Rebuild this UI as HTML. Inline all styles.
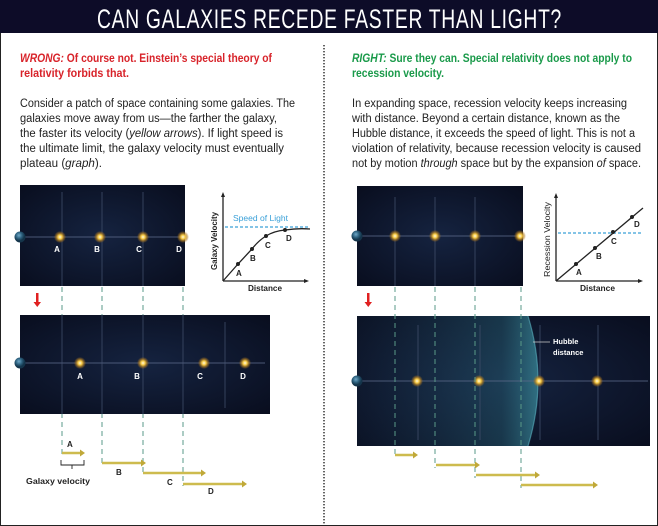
<!DOCTYPE html>
<html><head><meta charset="utf-8"><style>
html,body{margin:0;padding:0;background:#fff;}
svg{display:block;}
text{font-family:"Liberation Sans",sans-serif;}
</style></head><body>
<svg width="658" height="526" viewBox="0 0 658 526" xmlns="http://www.w3.org/2000/svg">
<defs>
<radialGradient id="gal"><stop offset="0" stop-color="#fffbe0"/><stop offset="0.35" stop-color="#f5c842"/><stop offset="0.7" stop-color="#b07a20" stop-opacity="0.6"/><stop offset="1" stop-color="#b07a20" stop-opacity="0"/></radialGradient>
<radialGradient id="earth" cx="0.4" cy="0.35"><stop offset="0" stop-color="#6fa8c8"/><stop offset="0.6" stop-color="#2a5d7a"/><stop offset="1" stop-color="#14344a"/></radialGradient>
<radialGradient id="pan" cx="0.5" cy="0.5" r="0.75"><stop offset="0" stop-color="#152340"/><stop offset="1" stop-color="#080c1c"/></radialGradient>
<linearGradient id="hub" x1="0" x2="1"><stop offset="0" stop-color="#1b3550" stop-opacity="0.15"/><stop offset="0.8" stop-color="#24596c" stop-opacity="0.5"/><stop offset="1" stop-color="#3a8a9a" stop-opacity="0.75"/></linearGradient>
<g id="g"><circle r="6" fill="url(#gal)"/></g>
</defs>
<rect x="0.5" y="0.5" width="657" height="525" fill="#fff" stroke="#222"/>
<rect x="0" y="0" width="658" height="33" fill="#0d0c28"/>
<text x="97" y="28" font-size="27" fill="#fff" textLength="465" lengthAdjust="spacingAndGlyphs" letter-spacing="1">CAN GALAXIES RECEDE FASTER THAN LIGHT?</text>
<line x1="324" y1="45" x2="324" y2="526" stroke="#222" stroke-width="1.4" stroke-dasharray="1.4,1.6"/>

<g font-size="11.5" font-weight="bold">
<text x="20" y="62" fill="#d8232a" textLength="252" lengthAdjust="spacingAndGlyphs"><tspan font-style="italic">WRONG:</tspan> Of course not. Einstein’s special theory of</text>
<text x="20" y="77" fill="#d8232a" textLength="109" lengthAdjust="spacingAndGlyphs">relativity forbids that.</text>
<text x="352" y="62" fill="#1a9a4a" textLength="280" lengthAdjust="spacingAndGlyphs"><tspan font-style="italic">RIGHT:</tspan> Sure they can. Special relativity does not apply to</text>
<text x="352" y="77" fill="#1a9a4a" textLength="92" lengthAdjust="spacingAndGlyphs">recession velocity.</text>
</g>
<g font-size="11.5" fill="#222">
<text x="20" y="107" textLength="275" lengthAdjust="spacingAndGlyphs">Consider a patch of space containing some galaxies. The</text>
<text x="20" y="122" textLength="257" lengthAdjust="spacingAndGlyphs">galaxies move away from us—the farther the galaxy,</text>
<text x="20" y="137" textLength="263" lengthAdjust="spacingAndGlyphs">the faster its velocity (<tspan font-style="italic">yellow arrows</tspan>). If light speed is</text>
<text x="20" y="152" textLength="264" lengthAdjust="spacingAndGlyphs">the ultimate limit, the galaxy velocity must eventually</text>
<text x="20" y="167" textLength="82" lengthAdjust="spacingAndGlyphs">plateau (<tspan font-style="italic">graph</tspan>).</text>
<text x="352" y="107" textLength="275" lengthAdjust="spacingAndGlyphs">In expanding space, recession velocity keeps increasing</text>
<text x="352" y="122" textLength="268" lengthAdjust="spacingAndGlyphs">with distance. Beyond a certain distance, known as the</text>
<text x="352" y="137" textLength="283" lengthAdjust="spacingAndGlyphs">Hubble distance, it exceeds the speed of light. This is not a</text>
<text x="352" y="152" textLength="289" lengthAdjust="spacingAndGlyphs">violation of relativity, because recession velocity is caused</text>
<text x="352" y="167" textLength="289" lengthAdjust="spacingAndGlyphs">not by motion <tspan font-style="italic">through</tspan> space but by the expansion <tspan font-style="italic">of</tspan> space.</text>
</g>

<!-- LEFT upper panel -->
<rect x="20" y="185" width="165" height="101" fill="url(#pan)"/>
<g stroke="#3e4c68" stroke-width="1" opacity="0.8">
<line x1="62" y1="192" x2="62" y2="286"/><line x1="102" y1="192" x2="102" y2="286"/><line x1="143" y1="192" x2="143" y2="286"/>
<line x1="20" y1="237" x2="185" y2="237" stroke="#5a6888"/></g>
<circle cx="20" cy="237" r="5.5" fill="url(#earth)"/>
<use href="#g" x="60" y="237"/><use href="#g" x="100" y="237"/><use href="#g" x="143" y="237"/><use href="#g" x="183" y="237"/>
<g fill="#fff" font-size="8" font-weight="bold" text-anchor="middle">
<text x="57" y="252">A</text><text x="97" y="252">B</text><text x="139" y="252">C</text><text x="179" y="252">D</text></g>

<!-- left graph -->
<g stroke="#222" stroke-width="1.3" fill="none">
<line x1="223" y1="281" x2="223" y2="195"/><line x1="223" y1="281" x2="306" y2="281"/>
<path d="M223 281 L238 264 L252 249 Q258 241 266 236 Q274 231 285 230 Q298 228 310 229"/></g>
<path d="M223 192 l-2 5 h4z M309 281 l-5 -2 v4z" fill="#222"/>
<line x1="225" y1="227" x2="310" y2="227" stroke="#3aa0d8" stroke-width="1.2" stroke-dasharray="3,2"/>
<text x="233" y="221" font-size="8.5" fill="#3aa0d8" textLength="55" lengthAdjust="spacingAndGlyphs">Speed of Light</text>
<g fill="#222"><circle cx="238" cy="264" r="2"/><circle cx="252" cy="249" r="2"/><circle cx="266" cy="236" r="2"/><circle cx="285" cy="230" r="2"/></g>
<g font-size="8" font-weight="bold" fill="#222"><text x="236" y="276">A</text><text x="250" y="261">B</text><text x="265" y="248">C</text><text x="286" y="241">D</text>
<text x="248" y="291" textLength="34" lengthAdjust="spacingAndGlyphs">Distance</text>
<text transform="translate(217,270) rotate(-90)" textLength="58" lengthAdjust="spacingAndGlyphs">Galaxy Velocity</text></g>

<!-- red arrows -->
<path d="M36 293 h2.5 v9 h2.5 l-3.75 5 l-3.75 -5 h2.5z" fill="#e02020"/>
<path d="M367 293 h2.5 v9 h2.5 l-3.75 5 l-3.75 -5 h2.5z" fill="#e02020"/>

<!-- left dashed -->
<g stroke="#5a9a88" stroke-width="1" stroke-dasharray="5,4">
<line x1="62" y1="287" x2="62" y2="455"/><line x1="102" y1="287" x2="102" y2="465"/><line x1="143" y1="287" x2="143" y2="475"/><line x1="183" y1="287" x2="183" y2="486"/></g>

<!-- left lower panel -->
<rect x="20" y="315" width="250" height="99" fill="url(#pan)"/>
<g stroke="#3e4c68" opacity="0.8"><line x1="62" y1="315" x2="62" y2="414"/><line x1="102" y1="315" x2="102" y2="414"/><line x1="143" y1="315" x2="143" y2="414"/><line x1="183" y1="315" x2="183" y2="414"/><line x1="225" y1="322" x2="225" y2="408"/>
<line x1="20" y1="363" x2="265" y2="363" stroke="#5a6888"/></g>
<circle cx="20" cy="363" r="5.5" fill="url(#earth)"/>
<use href="#g" x="80" y="363"/><use href="#g" x="143" y="363"/><use href="#g" x="204" y="363"/><use href="#g" x="245" y="363"/>
<g fill="#fff" font-size="8" font-weight="bold" text-anchor="middle">
<text x="80" y="379">A</text><text x="137" y="379">B</text><text x="200" y="379">C</text><text x="243" y="379">D</text></g>
<g stroke="#cdbb4e" stroke-width="2.6" fill="none">
<line x1="62" y1="453" x2="82" y2="453"/><line x1="102" y1="463" x2="143" y2="463"/><line x1="143" y1="473" x2="203" y2="473"/><line x1="183" y1="484" x2="244" y2="484"/></g>
<g fill="#c0a838"><path d="M80 449.5 l5 3.5 l-5 3.5z"/><path d="M141 459.5 l5 3.5 l-5 3.5z"/><path d="M201 469.5 l5 3.5 l-5 3.5z"/><path d="M242 480.5 l5 3.5 l-5 3.5z"/></g>
<g font-size="8" font-weight="bold" fill="#222"><text x="67" y="447">A</text><text x="116" y="475">B</text><text x="167" y="485">C</text><text x="208" y="494">D</text>
<text x="26" y="484" textLength="64" lengthAdjust="spacingAndGlyphs">Galaxy velocity</text></g>
<path d="M61 460 v5 h23 v-5 M72 465 v4" stroke="#222" fill="none" stroke-width="0.9"/>

<!-- RIGHT upper panel -->
<rect x="357" y="186" width="166" height="100" fill="url(#pan)"/>
<g stroke="#3e4c68" opacity="0.8"><line x1="395" y1="197" x2="395" y2="286"/><line x1="435" y1="197" x2="435" y2="286"/><line x1="475" y1="197" x2="475" y2="286"/>
<line x1="357" y1="236" x2="523" y2="236" stroke="#5a6888"/></g>
<circle cx="357" cy="236" r="5.5" fill="url(#earth)"/>
<use href="#g" x="395" y="236"/><use href="#g" x="435" y="236"/><use href="#g" x="475" y="236"/><use href="#g" x="520" y="236"/>

<!-- right graph -->
<g stroke="#222" stroke-width="1.3" fill="none"><line x1="556" y1="281" x2="556" y2="196"/><line x1="556" y1="281" x2="640" y2="281"/><line x1="556" y1="281" x2="643" y2="208"/></g>
<path d="M556 193 l-2 5 h4z M643 281 l-5 -2 v4z" fill="#222"/>
<line x1="558" y1="233" x2="643" y2="233" stroke="#3aa0d8" stroke-width="1.2" stroke-dasharray="3,2"/>
<g fill="#222"><circle cx="576" cy="264" r="2"/><circle cx="595" cy="248" r="2"/><circle cx="613" cy="232" r="2"/><circle cx="632" cy="217" r="2"/></g>
<g font-size="8" font-weight="bold" fill="#222"><text x="576" y="275">A</text><text x="596" y="259">B</text><text x="611" y="244">C</text><text x="634" y="227">D</text>
<text x="580" y="291" textLength="35" lengthAdjust="spacingAndGlyphs">Distance</text>
<text transform="translate(550,277) rotate(-90)" textLength="75" lengthAdjust="spacingAndGlyphs" font-weight="normal">Recession Velocity</text></g>

<!-- right lower panel -->
<rect x="357" y="316" width="293" height="130" fill="url(#pan)"/>
<path d="M357 316 H528 Q548 381 528 446 H357z" fill="url(#hub)"/>
<path d="M528 316 Q548 381 528 446" stroke="#5ab0c0" stroke-width="1.2" fill="none" opacity="0.6"/>
<g stroke="#3e4c68" opacity="0.8"><line x1="418" y1="325" x2="418" y2="440"/><line x1="480" y1="325" x2="480" y2="440"/><line x1="540" y1="325" x2="540" y2="440"/><line x1="598" y1="325" x2="598" y2="440"/>
<line x1="357" y1="381" x2="648" y2="381" stroke="#5a6888"/></g>
<circle cx="357" cy="381" r="5.5" fill="url(#earth)"/>
<use href="#g" x="417" y="381"/><use href="#g" x="479" y="381"/><use href="#g" x="539" y="381"/><use href="#g" x="597" y="381"/>
<line x1="533" y1="342" x2="550" y2="342" stroke="#ccc" stroke-width="0.8"/>
<g fill="#fff" font-size="7.5" font-weight="bold"><text x="553" y="344">Hubble</text><text x="553" y="355">distance</text></g>

<g stroke="#5a9a88" stroke-width="1" stroke-dasharray="5,4">
<line x1="395" y1="287" x2="395" y2="458"/><line x1="435" y1="287" x2="435" y2="468"/><line x1="475" y1="287" x2="475" y2="478"/><line x1="521" y1="287" x2="521" y2="488"/></g>
<g stroke="#cdbb4e" stroke-width="2.6" fill="none">
<line x1="395" y1="455" x2="414" y2="455"/><line x1="436" y1="465" x2="476" y2="465"/><line x1="476" y1="475" x2="536" y2="475"/><line x1="521" y1="485" x2="594" y2="485"/></g>
<g fill="#c0a838"><path d="M413 451.5 l5 3.5 l-5 3.5z"/><path d="M475 461.5 l5 3.5 l-5 3.5z"/><path d="M535 471.5 l5 3.5 l-5 3.5z"/><path d="M593 481.5 l5 3.5 l-5 3.5z"/></g>
</svg>
</body></html>
